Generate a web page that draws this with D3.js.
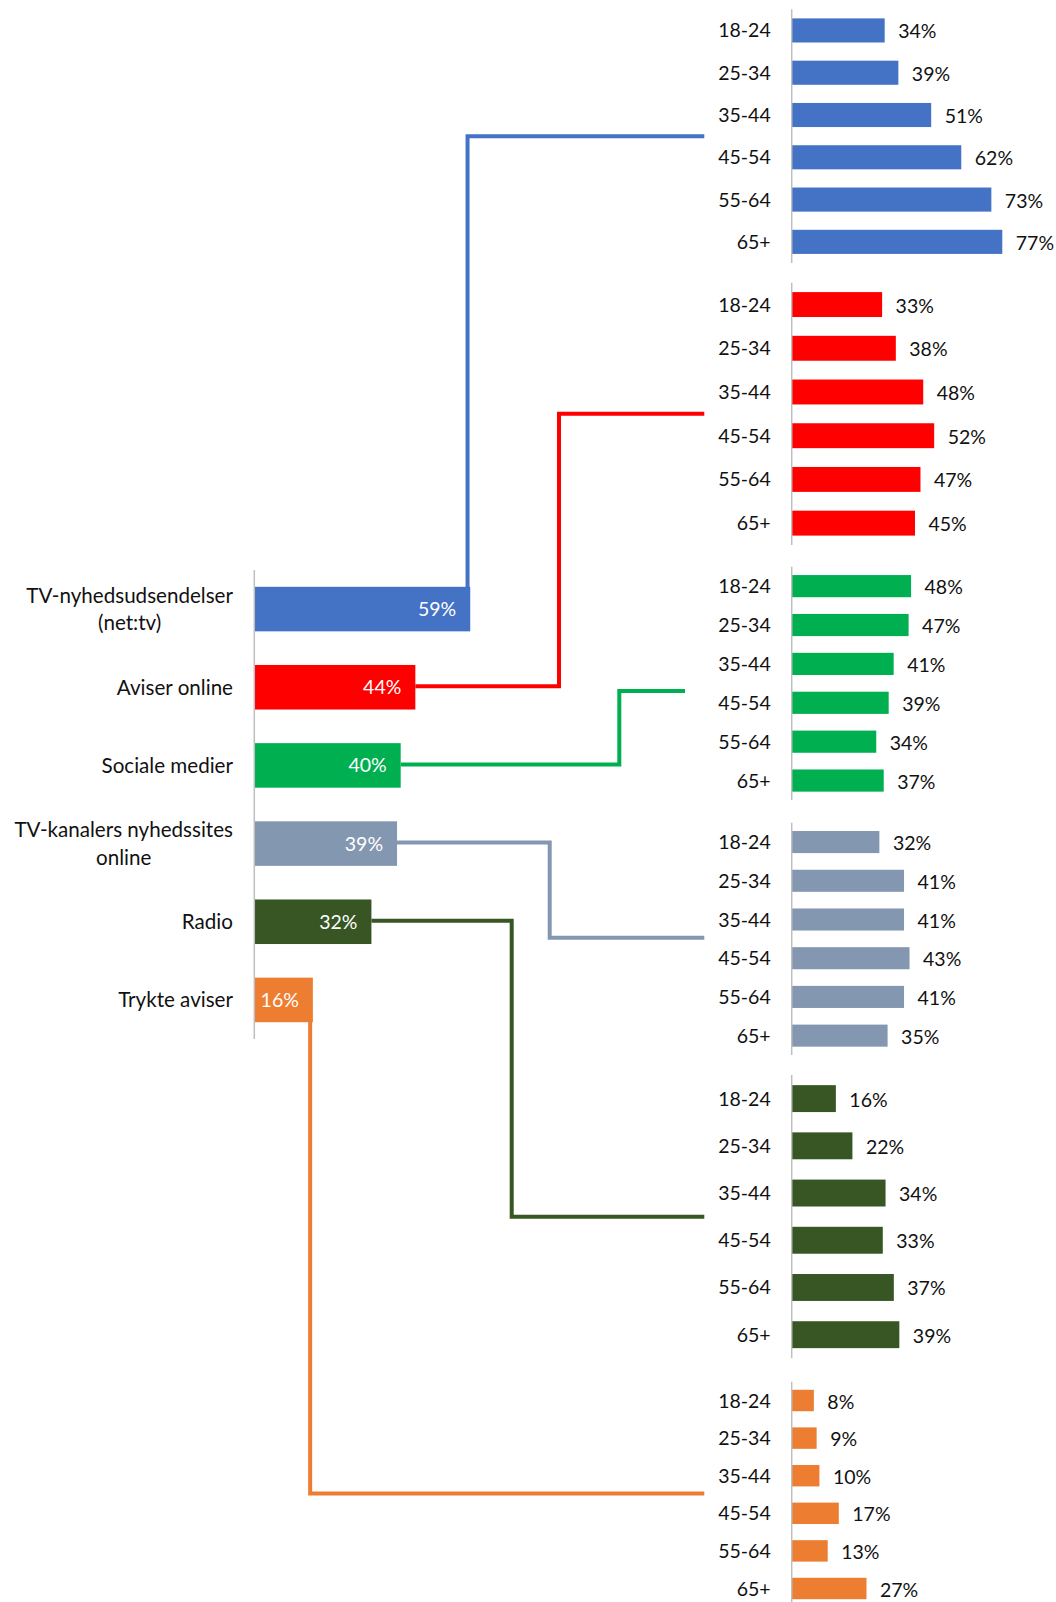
<!DOCTYPE html>
<html>
<head>
<meta charset="utf-8">
<script src="https://cdn.jsdelivr.net/npm/d3@7"></script>
<style>
  html, body { margin: 0; padding: 0; background: #ffffff; }
  svg { display: block; }
  text { font-family: Lato, "Open Sans", "DejaVu Sans", sans-serif; }
</style>
</head>
<body>
<svg id="chart" width="1056" height="1602"></svg>
<script>
// ---------- data ----------
const categories = [
  "TV-nyhedsudsendelser\n(net:tv)",
  "Aviser online",
  "Sociale medier",
  "TV-kanalers nyhedssites\nonline",
  "Radio",
  "Trykte aviser"
];
const totals = [59, 44, 40, 39, 32, 16];
const ageGroups = ["18-24", "25-34", "35-44", "45-54", "55-64", "65+"];
const tvNews = [34, 39, 51, 62, 73, 77];
const newspapersOnline = [33, 38, 48, 52, 47, 45];
const socialMedia = [48, 47, 41, 39, 34, 37];
const tvSites = [32, 41, 41, 43, 41, 35];
const radio = [16, 22, 34, 33, 37, 39];
const printedPapers = [8, 9, 10, 17, 13, 27];
const seriesByAge = [tvNews, newspapersOnline, socialMedia, tvSites, radio, printedPapers];
const colors = ["#4472C4", "#FF0000", "#00B050", "#8497B0", "#375623", "#ED7D31"];

// ---------- layout ----------
const W = 1056, H = 1602;
const fontSize = 19.5;
const catFontSize = 20.6;
const textColor = "#111111";
const axisColor = "#bfbfbf";
const left = { axisX: 254.3, top: 570, bottom: 1039, fullWidth: 366, labelRight: 233 };
const rightAxisX = 791.7;
const ageLabelRight = 770.7;
// per-panel vertical extents, width of 100%, connector elbow and ends
const panels = [
  { top: 9.3,    bottom: 263,    fullWidth: 273.5, elbow: "bar", endX: 704.3, yOff: 0 },
  { top: 282.7,  bottom: 545,    fullWidth: 274,   elbow: 559,   endX: 704.3, yOff: 0 },
  { top: 566.7,  bottom: 800,    fullWidth: 248.7, elbow: 619.3, endX: 685,   yOff: 7.6 },
  { top: 822.7,  bottom: 1055,   fullWidth: 274,   elbow: 549.7, endX: 704.3, yOff: -1 },
  { top: 1075,   bottom: 1358.3, fullWidth: 276,   elbow: 511.7, endX: 704.3, yOff: 0 },
  { top: 1381.7, bottom: 1607.3, fullWidth: 277,   elbow: "bar", endX: 704.3, yOff: -1 }
];

const svg = d3.select("#chart");
const gLines = svg.append("g");
const gMain = svg.append("g");

// ---------- left (totals) chart ----------
const yLeft = d3.scaleBand().domain(categories).range([left.top, left.bottom])
  .paddingInner(0.43).paddingOuter(0.215);
const xLeft = d3.scaleLinear().domain([0, 100]).range([left.axisX, left.axisX + left.fullWidth]);

// connectors (drawn first, beneath bars)
categories.forEach((c, i) => {
  const p = panels[i];
  const barEnd = xLeft(totals[i]);
  const cy = yLeft(c) + yLeft.bandwidth() / 2 - 1;
  const ty = (p.top + p.bottom) / 2 + p.yOff;
  let d;
  if (p.elbow === "bar") {
    const ex = barEnd - 2.7;
    d = `M${ex},${cy}V${ty}H${p.endX}`;
  } else {
    d = `M${barEnd},${cy}H${p.elbow}V${ty}H${p.endX}`;
  }
  gLines.append("path").attr("d", d).attr("fill", "none")
    .attr("stroke", colors[i]).attr("stroke-width", 4)
    .attr("stroke-linejoin", "miter");
});

gMain.selectAll("rect.total").data(categories).join("rect")
  .attr("class", "total")
  .attr("x", xLeft(0))
  .attr("y", d => yLeft(d))
  .attr("width", (d, i) => xLeft(totals[i]) - xLeft(0))
  .attr("height", yLeft.bandwidth())
  .attr("fill", (d, i) => colors[i]);

gMain.selectAll("text.totalVal").data(categories).join("text")
  .attr("class", "totalVal")
  .attr("x", (d, i) => xLeft(totals[i]) - 14)
  .attr("y", d => yLeft(d) + yLeft.bandwidth() / 2)
  .attr("dy", "0.36em")
  .attr("text-anchor", "end")
  .attr("font-size", fontSize)
  .attr("fill", "#ffffff")
  .text((d, i) => totals[i] + "%");

// category labels (multi-line blocks centered, block right-aligned)
categories.forEach(c => {
  const lines = c.split("\n");
  const cy = yLeft(c) + yLeft.bandwidth() / 2;
  const lh = 27.5;
  const g = gMain.append("g");
  const ts = lines.map((ln, k) => g.append("text")
    .attr("y", cy + (k - (lines.length - 1) / 2) * lh)
    .attr("dy", "0.36em")
    .attr("font-size", catFontSize)
    .attr("fill", textColor)
    .text(ln));
  const maxW = d3.max(ts, t => t.node().getComputedTextLength());
  const cx = left.labelRight - maxW / 2;
  ts.forEach(t => t.attr("x", cx).attr("text-anchor", "middle"));
});

gMain.append("line")
  .attr("x1", left.axisX).attr("x2", left.axisX)
  .attr("y1", left.top).attr("y2", left.bottom)
  .attr("stroke", axisColor).attr("stroke-width", 1.5);

// ---------- right (age) panels ----------
panels.forEach((p, i) => {
  const vals = seriesByAge[i];
  const y = d3.scaleBand().domain(ageGroups).range([p.top, p.bottom])
    .paddingInner(0.43).paddingOuter(0.215);
  const x = d3.scaleLinear().domain([0, 100]).range([rightAxisX, rightAxisX + p.fullWidth]);
  const g = gMain.append("g");

  g.selectAll("rect").data(ageGroups).join("rect")
    .attr("x", x(0))
    .attr("y", d => y(d))
    .attr("width", (d, k) => x(vals[k]) - x(0))
    .attr("height", y.bandwidth())
    .attr("fill", colors[i]);

  g.selectAll("text.val").data(ageGroups).join("text")
    .attr("class", "val")
    .attr("x", (d, k) => x(vals[k]) + 13.5)
    .attr("y", d => y(d) + y.bandwidth() / 2 + 1)
    .attr("dy", "0.36em")
    .attr("font-size", fontSize)
    .attr("fill", textColor)
    .text((d, k) => vals[k] + "%");

  g.selectAll("text.age").data(ageGroups).join("text")
    .attr("class", "age")
    .attr("x", ageLabelRight)
    .attr("y", d => y(d) + y.bandwidth() / 2)
    .attr("dy", "0.36em")
    .attr("text-anchor", "end")
    .attr("font-size", fontSize)
    .attr("fill", textColor)
    .text(d => d);

  g.append("line")
    .attr("x1", rightAxisX).attr("x2", rightAxisX)
    .attr("y1", p.top).attr("y2", Math.min(p.bottom, H))
    .attr("stroke", axisColor).attr("stroke-width", 1.5);
});
</script>
</body>
</html>
